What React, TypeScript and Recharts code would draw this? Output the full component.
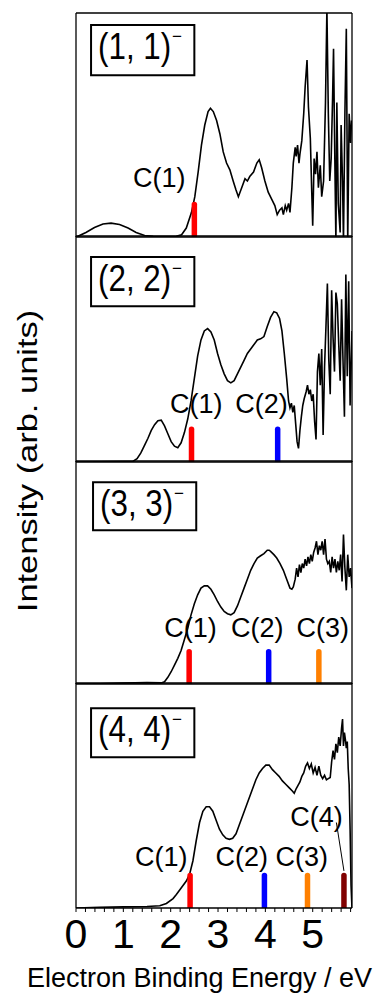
import React from 'react';
import {
  LineChart,
  Line,
  XAxis,
  YAxis,
  ReferenceLine,
  ReferenceArea,
  ReferenceDot,
} from 'recharts';

const FONT = '"Liberation Sans", Arial, Helvetica, sans-serif';
const X_MAX = 5.83;
const BAR_TOP = 0.145;

const xTicks = [0, 0.2, 0.4, 0.6, 0.8, 1, 1.2, 1.4, 1.6, 1.8, 2, 2.2, 2.4, 2.6, 2.8, 3, 3.2, 3.4, 3.6, 3.8, 4, 4.2, 4.4, 4.6, 4.8, 5, 5.2, 5.4, 5.6, 5.8];
const peakColors = ['#ff0000', '#0000ff', '#ff8000', '#800000'];

// (1, 1)-
const energy1 = [0, 0.04, 0.21, 0.39, 0.57, 0.74, 0.92, 1.1, 1.27, 1.45, 1.63, 1.91, 2.12, 2.23, 2.33, 2.44, 2.51, 2.58, 2.65, 2.72, 2.79, 2.84, 2.9, 2.97, 3.04, 3.11, 3.18, 3.25, 3.32, 3.38, 3.43, 3.5, 3.57, 3.62, 3.67, 3.75, 3.82, 3.87, 3.92, 3.99, 4.06, 4.13, 4.2, 4.25, 4.3, 4.35, 4.38, 4.42, 4.45, 4.49, 4.52, 4.56, 4.59, 4.63, 4.65, 4.68, 4.71, 4.73, 4.77, 4.81, 4.84, 4.88, 4.91, 4.95, 4.98, 5.0, 5.03, 5.06, 5.09, 5.12, 5.16, 5.19, 5.23, 5.27, 5.3, 5.33, 5.36, 5.39, 5.42, 5.44, 5.47, 5.49, 5.51, 5.54, 5.58, 5.6, 5.63, 5.65, 5.68, 5.71, 5.74, 5.77, 5.8, 5.82];
const intensity1 = [0, 0.003, 0.02, 0.042, 0.058, 0.062, 0.056, 0.04, 0.02, 0.007, 0.003, 0.002, 0.003, 0.01, 0.04, 0.11, 0.18, 0.29, 0.41, 0.5, 0.56, 0.575, 0.56, 0.52, 0.46, 0.38, 0.33, 0.3, 0.25, 0.21, 0.18, 0.22, 0.26, 0.25, 0.27, 0.29, 0.33, 0.345, 0.31, 0.25, 0.2, 0.17, 0.14, 0.1, 0.12, 0.13, 0.1, 0.14, 0.12, 0.15, 0.11, 0.22, 0.33, 0.4, 0.36, 0.41, 0.33, 0.37, 0.43, 0.55, 0.67, 0.79, 0.58, 0.44, 0.2, 0.05, 0.35, 0.28, 0.38, 0.22, 0.32, 0.18, 0.25, 0.6, 1.02, 0.55, 0.25, 0.35, 0.62, 0.84, 0.3, -0.02, 0.6, 0.15, 0.02, 0.5, 0.25, -0.02, 0.55, 0.93, -0.02, 0.55, 0.42, 0.52];
const peaks1 = [2.5];
const labelX1 = [1.76];
const labelY1 = [0.265];

// (2, 2)-
const energy2 = [0, 1.0, 1.2, 1.29, 1.37, 1.45, 1.52, 1.59, 1.66, 1.73, 1.8, 1.87, 1.94, 2.01, 2.08, 2.15, 2.22, 2.29, 2.36, 2.43, 2.5, 2.57, 2.64, 2.71, 2.78, 2.85, 2.92, 2.99, 3.06, 3.13, 3.2, 3.27, 3.34, 3.41, 3.48, 3.55, 3.62, 3.69, 3.76, 3.83, 3.9, 3.97, 4.04, 4.11, 4.18, 4.24, 4.3, 4.35, 4.4, 4.45, 4.49, 4.52, 4.55, 4.58, 4.61, 4.64, 4.67, 4.7, 4.73, 4.76, 4.79, 4.82, 4.86, 4.89, 4.92, 4.95, 4.98, 5.01, 5.04, 5.07, 5.1, 5.13, 5.16, 5.19, 5.22, 5.25, 5.28, 5.31, 5.34, 5.37, 5.4, 5.43, 5.46, 5.49, 5.52, 5.55, 5.58, 5.61, 5.64, 5.67, 5.7, 5.73, 5.76, 5.79, 5.83];
const intensity2 = [0, 0.002, 0.003, 0.015, 0.04, 0.075, 0.105, 0.14, 0.165, 0.183, 0.185, 0.16, 0.125, 0.09, 0.07, 0.063, 0.085, 0.13, 0.19, 0.27, 0.37, 0.47, 0.54, 0.58, 0.59, 0.575, 0.54, 0.48, 0.43, 0.39, 0.36, 0.35, 0.36, 0.39, 0.42, 0.45, 0.48, 0.5, 0.52, 0.54, 0.545, 0.555, 0.6, 0.64, 0.665, 0.66, 0.635, 0.58, 0.48, 0.37, 0.27, 0.24, 0.26, 0.22, 0.25, 0.17, 0.09, 0.06, 0.14, 0.2, 0.25, 0.28, 0.31, 0.34, 0.3, 0.32, 0.27, 0.3, 0.18, 0.1, 0.4, 0.48, 0.34, 0.5, 0.12, 0.42, 0.6, 0.79, 0.45, 0.3, 0.76, 0.55, 0.4, 0.75, 0.7, 0.52, 0.36, 0.72, 0.45, 0.2, 0.83, 0.38, 0.8, 0.25, 0.58];
const peaks2 = [2.44, 4.26];
const labelX2 = [2.54, 3.92];
const labelY2 = [0.258, 0.258];

// (3, 3)-
const energy3 = [0, 0.5, 1.0, 1.5, 1.8, 1.87, 1.94, 2.01, 2.08, 2.15, 2.22, 2.29, 2.36, 2.43, 2.5, 2.57, 2.64, 2.71, 2.78, 2.85, 2.92, 2.99, 3.06, 3.13, 3.2, 3.27, 3.34, 3.41, 3.48, 3.55, 3.62, 3.69, 3.76, 3.83, 3.9, 3.97, 4.04, 4.08, 4.11, 4.18, 4.24, 4.31, 4.38, 4.45, 4.52, 4.56, 4.59, 4.63, 4.66, 4.69, 4.72, 4.75, 4.78, 4.81, 4.84, 4.87, 4.9, 4.93, 4.96, 4.99, 5.02, 5.05, 5.08, 5.11, 5.14, 5.17, 5.2, 5.23, 5.26, 5.29, 5.32, 5.35, 5.38, 5.41, 5.44, 5.47, 5.5, 5.53, 5.56, 5.59, 5.62, 5.65, 5.68, 5.71, 5.74, 5.77, 5.8, 5.83];
const intensity3 = [0, 0.001, 0.004, 0.006, 0.005, 0.01, 0.03, 0.055, 0.085, 0.115, 0.15, 0.2, 0.25, 0.31, 0.36, 0.4, 0.43, 0.44, 0.44, 0.425, 0.4, 0.37, 0.345, 0.325, 0.315, 0.31, 0.32, 0.35, 0.39, 0.43, 0.47, 0.51, 0.54, 0.565, 0.575, 0.585, 0.6, 0.6, 0.595, 0.58, 0.565, 0.54, 0.51, 0.47, 0.43, 0.425, 0.435, 0.47, 0.52, 0.48, 0.535, 0.5, 0.54, 0.52, 0.56, 0.53, 0.57, 0.54, 0.58, 0.55, 0.59, 0.61, 0.64, 0.58, 0.62, 0.6, 0.64, 0.58, 0.65, 0.56, 0.54, 0.55, 0.5, 0.57, 0.52, 0.56, 0.5, 0.55, 0.51, 0.58, 0.46, 0.67, 0.52, 0.42, 0.58, 0.48, 0.52, 0.43];
const peaks3 = [2.39, 4.07, 5.13];
const labelX3 = [2.42, 3.83, 5.21];
const labelY3 = [0.252, 0.252, 0.252];

// (4, 4)-
const energy4 = [0, 0.5, 1.0, 1.5, 1.77, 1.91, 2.05, 2.12, 2.19, 2.26, 2.33, 2.4, 2.47, 2.54, 2.61, 2.68, 2.75, 2.82, 2.89, 2.96, 3.03, 3.1, 3.17, 3.24, 3.31, 3.38, 3.45, 3.52, 3.59, 3.66, 3.73, 3.8, 3.87, 3.94, 4.01, 4.08, 4.15, 4.22, 4.29, 4.36, 4.43, 4.5, 4.57, 4.61, 4.65, 4.69, 4.73, 4.77, 4.81, 4.85, 4.89, 4.93, 4.97, 5.01, 5.05, 5.09, 5.13, 5.17, 5.21, 5.25, 5.29, 5.33, 5.37, 5.4, 5.43, 5.46, 5.49, 5.52, 5.55, 5.58, 5.61, 5.63, 5.65, 5.67, 5.69, 5.71, 5.73, 5.75, 5.77, 5.79, 5.81, 5.83];
const intensity4 = [0, 0.003, 0.005, 0.007, 0.01, 0.02, 0.042, 0.06, 0.08, 0.1, 0.12, 0.15, 0.21, 0.3, 0.38, 0.43, 0.45, 0.45, 0.43, 0.39, 0.35, 0.325, 0.31, 0.305, 0.31, 0.33, 0.37, 0.41, 0.45, 0.49, 0.53, 0.57, 0.6, 0.62, 0.635, 0.635, 0.615, 0.6, 0.585, 0.565, 0.55, 0.535, 0.52, 0.51, 0.53, 0.545, 0.56, 0.585, 0.6, 0.63, 0.645, 0.62, 0.64, 0.6, 0.625, 0.59, 0.63, 0.59, 0.575, 0.59, 0.57, 0.575, 0.58, 0.65, 0.7, 0.66, 0.73, 0.69, 0.76, 0.72, 0.8, 0.84, 0.72, 0.78, 0.75, 0.71, 0.74, 0.62, 0.55, 0.35, 0.1, 0];
const peaks4 = [2.41, 3.98, 4.89, 5.66];
const labelX4 = [1.8, 3.5, 4.77, 5.08];
const labelY4 = [0.228, 0.228, 0.228, 0.406];

const toRows = (e: number[], v: number[]) => e.map((x, i) => ({ e: x, v: v[i] }));

function PanelTag(props: any) {
  const { viewBox, text } = props;
  if (!viewBox) return null;
  const { x, y } = viewBox;
  return (
    <g>
      <text
        transform={`translate(${x + 7},${y + 34}) scale(0.87,1)`}
        fontSize={36}
        fontFamily={FONT}
        fill="#000"
      >
        {text}
      </text>
      <text x={x + 81} y={y + 17} fontSize={17} fontFamily={FONT} fill="#000">
        −
      </text>
    </g>
  );
}

type PanelProps = {
  top: number;
  plotH: number;
  rows: { e: number; v: number }[];
  peaks: number[];
  labelX: number[];
  labelY: number[];
  tag: string;
  box: [number, number, number, number];
  yTicks: number[];
  last?: boolean;
  leader?: [number, number, number, number];
};

const frame = { stroke: '#000', strokeWidth: 1.3 };

function Panel({ top, plotH, rows, peaks, labelX, labelY, tag, box, yTicks, last, leader }: PanelProps) {
  const pad = 2;
  const bottomH = last ? 86 : 1;
  return (
    <div style={{ position: 'absolute', left: 0, top: top - pad }}>
      <LineChart
        width={379}
        height={plotH + pad + (last ? bottomH : pad)}
        data={rows}
        margin={{ top: pad - 1, right: 26, bottom: last ? 0 : pad - 1, left: 76 }}
      >
        <XAxis
          xAxisId="b"
          dataKey="e"
          type="number"
          domain={[0, X_MAX]}
          allowDataOverflow
          ticks={xTicks}
          interval={0}
          height={bottomH}
          axisLine={frame}
          tickLine={last ? { stroke: '#000' } : false}
          tickSize={4}
          tickMargin={7}
          tick={last ? { fontSize: 41, fill: '#000', fontFamily: FONT } : false}
          tickFormatter={(t: number) => (t % 1 === 0 ? String(t) : '')}
        />
        <XAxis
          xAxisId="t"
          orientation="top"
          mirror
          dataKey="e"
          type="number"
          domain={[0, X_MAX]}
          allowDataOverflow
          ticks={xTicks}
          interval={0}
          height={1}
          axisLine={frame}
          tickLine={{ stroke: '#000' }}
          tickSize={5}
          tick={false}
        />
        <YAxis
          yAxisId="l"
          mirror
          type="number"
          domain={[0, 1]}
          allowDataOverflow
          ticks={yTicks}
          interval={0}
          width={1}
          axisLine={frame}
          tickLine={{ stroke: '#000' }}
          tickSize={5}
          tick={false}
        />
        <YAxis
          yAxisId="r"
          orientation="right"
          type="number"
          domain={[0, 1]}
          ticks={yTicks}
          interval={0}
          width={1}
          axisLine={frame}
          tickLine={{ stroke: '#000' }}
          tickSize={3}
          tick={false}
        />
        <Line
          xAxisId="b"
          yAxisId="l"
          type="linear"
          dataKey="v"
          stroke="#000"
          strokeWidth={1.6}
          dot={false}
          isAnimationActive={false}
        />
        <ReferenceArea
          xAxisId="b"
          yAxisId="l"
          x1={box[0]}
          x2={box[1]}
          y1={box[2]}
          y2={box[3]}
          fill="#fff"
          fillOpacity={1}
          stroke="#000"
          strokeWidth={2}
          label={<PanelTag text={tag} />}
        />
        {peaks.map((p, i) => (
          <ReferenceLine
            key={'p' + i}
            xAxisId="b"
            yAxisId="l"
            segment={[
              { x: p, y: 0 },
              { x: p, y: BAR_TOP },
            ]}
            stroke={peakColors[i]}
            strokeWidth={5.5}
            strokeLinecap="round"
            ifOverflow="hidden"
          />
        ))}
        {leader && (
          <ReferenceLine
            xAxisId="b"
            yAxisId="l"
            segment={[
              { x: leader[0], y: leader[1] },
              { x: leader[2], y: leader[3] },
            ]}
            stroke="#000"
            strokeWidth={1}
          />
        )}
        {labelX.map((lx, i) => (
          <ReferenceDot
            key={'l' + i}
            xAxisId="b"
            yAxisId="l"
            x={lx}
            y={labelY[i]}
            r={1}
            fill="none"
            stroke="none"
            label={{
              value: `C(${i + 1})`,
              position: 'center',
              fontSize: 27,
              fill: '#000',
              fontFamily: FONT,
            }}
          />
        ))}
      </LineChart>
    </div>
  );
}

export default function App() {
  return (
    <div style={{ position: 'absolute', left: 0, top: 0, width: 379, height: 994, background: '#fff' }}>
      <Panel
        top={14}
        plotH={223}
        rows={toRows(energy1, intensity1)}
        peaks={peaks1}
        labelX={labelX1}
        labelY={labelY1}
        tag="(1, 1)"
        box={[0.318, 2.5, 0.722, 0.946]}
        yTicks={[0.62]}
      />
      <Panel
        top={237}
        plotH={225}
        rows={toRows(energy2, intensity2)}
        peaks={peaks2}
        labelX={labelX2}
        labelY={labelY2}
        tag="(2, 2)"
        box={[0.318, 2.5, 0.689, 0.907]}
        yTicks={[0.5]}
      />
      <Panel
        top={462}
        plotH={222}
        rows={toRows(energy3, intensity3)}
        peaks={peaks3}
        labelX={labelX3}
        labelY={labelY3}
        tag="(3, 3)"
        box={[0.36, 2.54, 0.689, 0.905]}
        yTicks={[0.083, 0.167, 0.25, 0.333, 0.417, 0.5, 0.583, 0.667, 0.75, 0.833, 0.917]}
      />
      <Panel
        top={684}
        plotH={224}
        rows={toRows(energy4, intensity4)}
        peaks={peaks4}
        labelX={labelX4}
        labelY={labelY4}
        tag="(4, 4)"
        box={[0.318, 2.5, 0.67, 0.888]}
        yTicks={[0.167, 0.333, 0.5, 0.667, 0.833]}
        leader={[5.5, 0.38, 5.66, 0.165]}
        last
      />
      <svg
        width={379}
        height={994}
        style={{ position: 'absolute', left: 0, top: 0, pointerEvents: 'none' }}
      >
        <text
          transform="translate(28,461) scale(1,1.23) rotate(-90)"
          textAnchor="middle"
          dominantBaseline="central"
          fontSize={28}
          fontFamily={FONT}
          fill="#000"
        >
          Intensity (arb. units)
        </text>
        <text x={199.5} y={987} textAnchor="middle" fontSize={27} fontFamily={FONT} fill="#000">
          Electron Binding Energy / eV
        </text>
      </svg>
    </div>
  );
}
